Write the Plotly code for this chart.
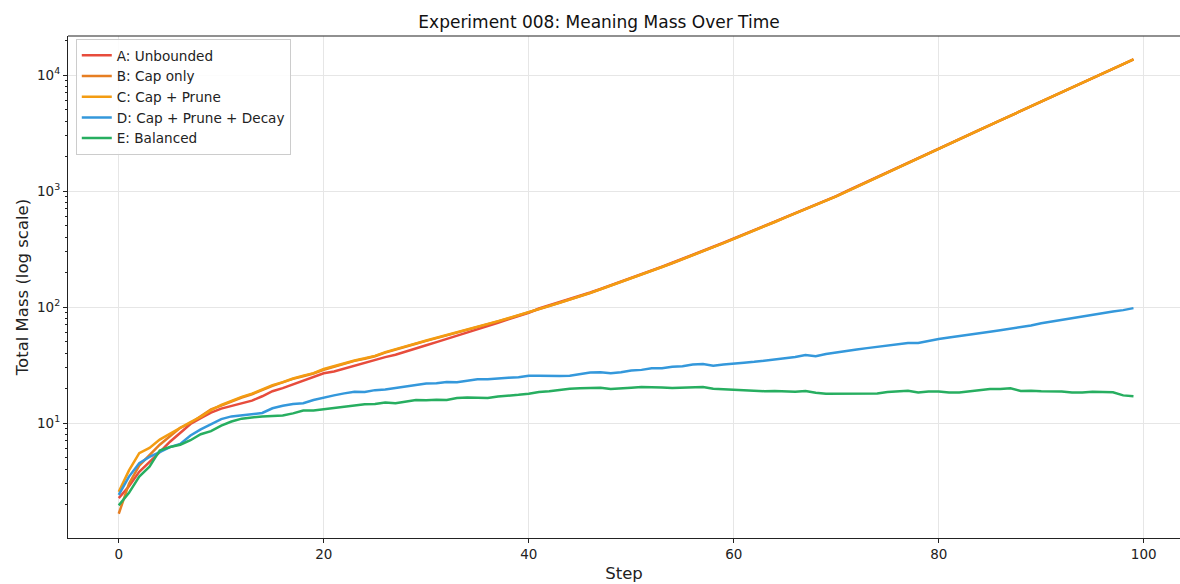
import plotly.graph_objects as go

steps = list(range(100))

series_names = ["A: Unbounded", "B: Cap only", "C: Cap + Prune", "D: Cap + Prune + Decay", "E: Balanced"]
series_colors = ["#e74c3c", "#e67e22", "#f39c12", "#3498db", "#27ae60"]

mass_a = [2.25, 2.85, 3.8, 4.6, 5.6, 6.9, 8.3, 9.8, 11.0, 12.3,
          13.3, 14.0, 14.8, 15.6, 17.0, 18.8, 20.0, 21.5, 23.2, 24.6,
          26.8, 27.8, 29.5, 31.0, 33.2, 35.0, 37.0, 38.8, 41.5, 44.0,
          46.8, 49.8, 53.0, 56.5, 60.0, 63.8, 68.5, 73.0, 78.2, 83.5,
          89.0, 97.0, 103.1, 109.8, 116.8, 124.3, 133.5, 143.3, 154.0, 165.4,
          177.6, 191.6, 206.7, 223.1, 240.7, 259.7, 281.5, 305.1, 330.7, 358.4,
          388.6, 423.2, 460.8, 500.6, 545.1, 593.5, 644.8, 702.2, 764.7, 830.7,
          904.7, 995.3, 1094, 1203, 1324, 1456, 1601, 1761, 1937, 2130,
          2342, 2566, 2812, 3082, 3379, 3703, 4059, 4450, 4878, 5348,
          5863, 6442, 7074, 7771, 8537, 9377, 10301, 11316, 12431, 13656]

mass_b = [1.65, 3.0, 4.3, 5.3, 6.5, 7.7, 9.1, 10.0, 11.4, 13.1,
          14.1, 15.4, 16.6, 17.7, 19.3, 20.9, 22.4, 24.0, 25.3, 26.7,
          28.8, 30.6, 32.5, 34.3, 35.8, 37.6, 40.4, 43.0, 45.5, 48.2,
          51.0, 53.8, 57.0, 60.1, 63.3, 66.9, 71.0, 75.1, 79.6, 84.4,
          89.6, 95.9, 102.0, 108.6, 115.6, 123.0, 132.1, 141.9, 152.5, 163.8,
          175.9, 189.8, 204.8, 221.0, 238.5, 257.3, 279.0, 302.4, 327.8, 355.3,
          385.2, 419.5, 456.8, 496.3, 540.5, 588.5, 639.4, 696.3, 758.3, 823.8,
          897.2, 987.1, 1086, 1195, 1315, 1447, 1592, 1752, 1928, 2121,
          2333, 2559, 2805, 3076, 3373, 3698, 4055, 4446, 4875, 5346,
          5861, 6440, 7072, 7770, 8536, 9376, 10300, 11315, 12430, 13655]

mass_c = [2.55, 3.9, 5.5, 6.1, 7.2, 8.1, 9.2, 10.2, 11.3, 12.9,
          14.3, 15.6, 16.8, 17.9, 19.6, 21.2, 22.5, 24.2, 25.6, 26.9,
          29.2, 31.0, 32.8, 34.6, 36.1, 37.9, 40.8, 43.4, 45.9, 48.6,
          51.4, 54.2, 57.5, 60.6, 63.8, 67.4, 71.5, 75.6, 80.1, 84.9,
          90.0, 96.2, 102.3, 108.9, 115.9, 123.3, 132.4, 142.2, 152.8, 164.1,
          176.2, 190.1, 205.1, 221.3, 238.8, 257.6, 279.3, 302.7, 328.1, 355.6,
          385.5, 419.8, 457.1, 496.6, 540.8, 588.8, 639.7, 696.6, 758.6, 824.1,
          897.5, 987.4, 1086, 1195, 1315, 1447, 1592, 1752, 1928, 2121,
          2333, 2559, 2805, 3076, 3373, 3698, 4055, 4446, 4875, 5346,
          5861, 6440, 7072, 7770, 8536, 9376, 10300, 11315, 12430, 13655]

mass_d = [2.4, 3.45, 4.5, 5.1, 5.6, 6.2, 6.6, 7.8, 8.8, 9.8,
          10.8, 11.4, 11.7, 12.0, 12.2, 13.4, 14.1, 14.6, 14.8, 15.8,
          16.6, 17.3, 18.0, 18.6, 18.5, 19.2, 19.4, 20.0, 20.6, 21.3,
          21.9, 22.0, 22.6, 22.5, 23.2, 23.8, 23.8, 24.3, 24.6, 24.8,
          25.5, 25.6, 25.4, 25.4, 25.6, 26.3, 27.2, 27.4, 26.9, 27.4,
          28.3, 28.7, 29.6, 29.7, 30.6, 30.9, 31.9, 32.2, 31.2, 31.9,
          32.7, 33.1, 33.7, 34.5, 35.2, 36.0, 37.0, 38.5, 37.6, 39.3,
          40.3, 41.8, 43.0, 44.2, 45.2, 46.2, 47.6, 48.9, 49.0, 51.2,
          53.0, 54.6, 56.0, 57.6, 59.4, 61.2, 63.0, 64.8, 66.7, 69.4,
          72.3, 74.9, 77.4, 80.1, 82.4, 85.3, 88.5, 91.4, 94.0, 97.8]

mass_e = [1.95, 2.5, 3.45, 4.2, 5.8, 6.2, 6.5, 7.1, 8.0, 8.5,
          9.5, 10.3, 10.9, 11.2, 11.4, 11.5, 11.6, 12.1, 12.8, 12.8,
          13.1, 13.5, 13.7, 14.2, 14.5, 14.6, 15.0, 14.8, 15.3, 15.8,
          15.7, 15.9, 15.8, 16.4, 16.6, 16.4, 16.4, 16.9, 17.1, 17.5,
          17.9, 18.5, 18.8, 19.3, 19.7, 19.9, 20.1, 20.1, 19.6, 19.7,
          20.1, 20.4, 20.4, 20.2, 20.0, 20.1, 20.4, 20.4, 19.7, 19.5,
          19.2, 19.0, 18.9, 18.8, 18.9, 18.7, 18.6, 18.9, 18.2, 17.9,
          17.9, 18.0, 18.1, 18.0, 18.0, 18.5, 18.7, 19.0, 18.3, 18.7,
          18.7, 18.3, 18.3, 18.7, 19.1, 19.6, 19.6, 19.9, 18.9, 19.0,
          18.8, 18.7, 18.7, 18.3, 18.3, 18.6, 18.6, 18.4, 17.3, 17.0]

x_ticks = [0, 20, 40, 60, 80, 100]
y_tick_vals = [10, 100, 1000, 10000]
y_tick_text = ["10<sup>1</sup>", "10<sup>2</sup>", "10<sup>3</sup>", "10<sup>4</sup>"]
y_minor_vals = [m * 10 ** k for k in range(0, 5) for m in range(2, 10)]

all_series = [mass_a, mass_b, mass_c, mass_d, mass_e]

fig = go.Figure()
for name, color, vals in zip(series_names, series_colors, all_series):
    fig.add_trace(go.Scatter(x=steps, y=vals, mode="lines", name=name,
                             line=dict(color=color, width=2.5)))

font_family = "DejaVu Sans"
fig.update_layout(
    width=1180, height=584,
    margin=dict(l=68, r=0, t=36, b=46, autoexpand=False),
    paper_bgcolor="white", plot_bgcolor="white",
    font=dict(family=font_family, size=13, color="#222222"),
    title=dict(text="Experiment 008: Meaning Mass Over Time", x=599 / 1180, xanchor="center",
               xref="container", y=1 - 22 / 584, yanchor="middle", font=dict(size=17, color="#111111")),
    showlegend=True,
    legend=dict(x=0.007, y=0.994, xanchor="left", yanchor="top",
                bgcolor="rgba(255,255,255,0.85)", bordercolor="#cccccc", borderwidth=1,
                font=dict(size=13.6, color="#222222"), tracegroupgap=0, itemwidth=30),
    xaxis=dict(range=[-4.95, 103.54], tickmode="array", tickvals=x_ticks, automargin=False,
               showgrid=True, gridcolor="#e6e6e6", gridwidth=1, zeroline=False,
               showline=True, linecolor="#222222", linewidth=1.2,
               ticks="outside", ticklen=4, tickcolor="#222222",
               tickfont=dict(size=13.5),
               title=dict(text="Step", font=dict(size=16.5), standoff=6)),
    yaxis=dict(type="log", range=[0.0086, 4.3362], tickmode="array", automargin=False,
               tickvals=y_tick_vals, ticktext=y_tick_text,
               showgrid=True, gridcolor="#e6e6e6", gridwidth=1, zeroline=False,
               showline=True, linecolor="#222222", linewidth=1.2,
               ticks="outside", ticklen=4, tickcolor="#222222",
               tickfont=dict(size=13.5),
               minor=dict(tickmode="array", tickvals=y_minor_vals, ticks="outside",
                          ticklen=2, tickcolor="#222222", showgrid=False),
               title=dict(text="Total Mass (log scale)", font=dict(size=16.5), standoff=4)),
)
fig.add_shape(type="line", xref="paper", yref="paper", x0=0, x1=1, y0=1, y1=1,
              line=dict(color="#222222", width=1.2))

fig.write_html("out.html", config={"displayModeBar": False},
               post_script="document.body.style.margin='0';document.body.style.overflow='hidden';")
